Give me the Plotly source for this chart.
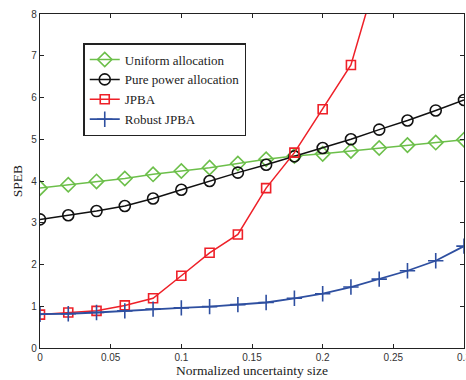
import plotly.graph_objects as go

x = [0, 0.02, 0.04, 0.06, 0.08, 0.1, 0.12, 0.14, 0.16, 0.18, 0.2, 0.22, 0.24, 0.26, 0.28, 0.3]
uniform = [3.83, 3.91, 3.99, 4.06, 4.16, 4.24, 4.32, 4.42, 4.52, 4.60, 4.65, 4.72, 4.79, 4.86, 4.92, 4.99]
pure_power = [3.08, 3.18, 3.28, 3.40, 3.58, 3.79, 4.00, 4.20, 4.39, 4.59, 4.79, 5.00, 5.23, 5.45, 5.69, 5.94]
jpba_x = [0, 0.02, 0.04, 0.06, 0.08, 0.1, 0.12, 0.14, 0.16, 0.18, 0.2, 0.22, 0.24]
jpba = [0.80, 0.85, 0.89, 1.02, 1.19, 1.73, 2.28, 2.72, 3.83, 4.68, 5.72, 6.78, 9.1]
robust = [0.81, 0.82, 0.85, 0.89, 0.93, 0.96, 0.99, 1.04, 1.09, 1.19, 1.30, 1.46, 1.65, 1.85, 2.09, 2.44]

x_ticks = [0, 0.05, 0.1, 0.15, 0.2, 0.25, 0.3]
x_tick_text = ["0", "0.05", "0.1", "0.15", "0.2", "0.25", "0.3"]
y_ticks = [0, 1, 2, 3, 4, 5, 6, 7, 8]

fig = go.Figure()
fig.add_trace(go.Scatter(x=x, y=uniform, name="Uniform allocation", mode="lines+markers",
                         line=dict(color="#6cbf4a", width=1.5),
                         marker=dict(symbol="diamond-open", size=11, color="#6cbf4a", line=dict(width=1.6))))
fig.add_trace(go.Scatter(x=x, y=pure_power, name="Pure power allocation", mode="lines+markers",
                         line=dict(color="#111111", width=1.5),
                         marker=dict(symbol="circle-open", size=11, color="#111111", line=dict(width=1.6))))
fig.add_trace(go.Scatter(x=jpba_x, y=jpba, name="JPBA", mode="lines+markers",
                         line=dict(color="#ee2028", width=1.5),
                         marker=dict(symbol="square-open", size=9, color="#ee2028", line=dict(width=1.6))))
fig.add_trace(go.Scatter(x=x, y=robust, name="Robust JPBA", mode="lines+markers",
                         line=dict(color="#2e4fa0", width=1.8),
                         marker=dict(symbol="cross-thin-open", size=11, color="#2e4fa0", line=dict(width=1.6, color="#2e4fa0"))))

axis_common = dict(showline=True, linecolor="#222222", linewidth=1.2, mirror="ticks",
                   ticks="inside", ticklen=4, tickcolor="#222222", showgrid=False, zeroline=False,
                   ticklabeloverflow="allow", automargin=False,
                   tickfont=dict(family="Liberation Sans, Arial", size=10, color="#333333"))

fig.update_xaxes(range=[0, 0.3], tickvals=x_ticks, ticktext=x_tick_text,
                 title=dict(text="Normalized uncertainty size", standoff=3,
                            font=dict(family="Liberation Serif, Times New Roman", size=13.5, color="#222222")),
                 **axis_common)
fig.update_yaxes(range=[0, 8], tickvals=y_ticks,
                 title=dict(text="SPEB", standoff=5,
                            font=dict(family="Liberation Serif, Times New Roman", size=13.5, color="#222222")),
                 **axis_common)

fig.update_layout(width=466, height=380, plot_bgcolor="white", paper_bgcolor="white",
                  margin=dict(l=40, r=2, t=14, b=32),
                  legend=dict(x=0.102, y=0.913, xanchor="left", yanchor="top",
                              bgcolor="white", bordercolor="#222222", borderwidth=1.5,
                              font=dict(family="Liberation Serif, Times New Roman", size=13, color="#222222"),
                              tracegroupgap=0, itemwidth=30))

fig.write_html("out.html")
